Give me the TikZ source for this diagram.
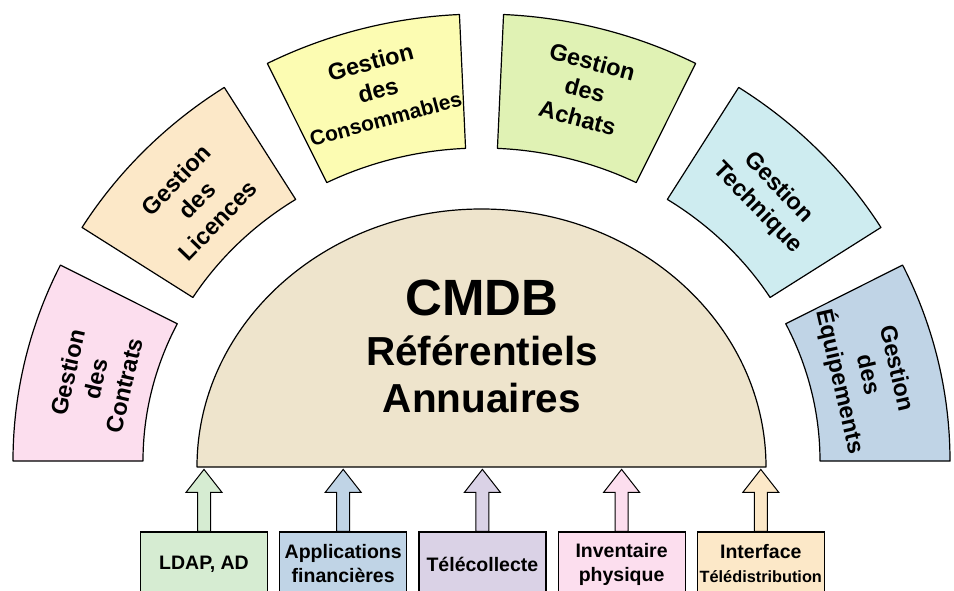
\documentclass[tikz,border=0pt]{standalone}
\usepackage{fontspec}
\setmainfont{Liberation Sans}
\usepackage{tikz}
\usepackage{xcolor}
\usetikzlibrary{positioning}

\definecolor{contratpink}{RGB}{252,222,238}
\definecolor{licencepeach}{RGB}{252,232,200}
\definecolor{consoyellow}{RGB}{252,252,178}
\definecolor{achatgreen}{RGB}{224,242,180}
\definecolor{techcyan}{RGB}{206,236,240}
\definecolor{equipblue}{RGB}{192,212,230}
\definecolor{cmdbbeige}{RGB}{238,228,204}
\definecolor{ldapgreen}{RGB}{214,236,210}
\definecolor{telelilac}{RGB}{218,210,230}

\tikzset{
    ringsector/.style={draw=black, line width=1.2pt, line join=round},
    sectortext/.style={font=\bfseries\fontsize{23.5}{29}\selectfont, align=center},
    hubtext/.style={anchor=base, font=\bfseries\fontsize{40.5}{46}\selectfont},
    sourcebox/.style={draw=black, line width=1.2pt, minimum width=127pt, minimum height=64pt,
        inner sep=0pt, align=center, font=\bfseries\fontsize{19.5}{24}\selectfont},
    feed/.style={draw=black, line width=1pt, line join=miter},
}

\begin{document}
\begin{tikzpicture}[x=1pt,y=1pt]
    \useasboundingbox (0,0) rectangle (954,590);
    \coordinate (ringc) at (481.5,129);

    %outer ring
    \draw[ringsector, fill=contratpink] ([shift={(ringc)}]180:468.5pt and 447pt) arc[start angle=180, end angle=154, x radius=468.5pt, y radius=447pt]
        -- ([shift={(ringc)}]154:338.5pt and 313pt) arc[start angle=154, end angle=180, x radius=338.5pt, y radius=313pt] -- cycle;
    \draw[ringsector, fill=licencepeach] ([shift={(ringc)}]148.5:468.5pt and 447pt) arc[start angle=148.5, end angle=123.3, x radius=468.5pt, y radius=447pt]
        -- ([shift={(ringc)}]123.3:338.5pt and 313pt) arc[start angle=123.3, end angle=148.5, x radius=338.5pt, y radius=313pt] -- cycle;
    \draw[ringsector, fill=consoyellow] ([shift={(ringc)}]117.2:468.5pt and 447pt) arc[start angle=117.2, end angle=92.7, x radius=468.5pt, y radius=447pt]
        -- ([shift={(ringc)}]92.7:338.5pt and 313pt) arc[start angle=92.7, end angle=117.2, x radius=338.5pt, y radius=313pt] -- cycle;
    \draw[ringsector, fill=achatgreen] ([shift={(ringc)}]87.3:468.5pt and 447pt) arc[start angle=87.3, end angle=62.8, x radius=468.5pt, y radius=447pt]
        -- ([shift={(ringc)}]62.8:338.5pt and 313pt) arc[start angle=62.8, end angle=87.3, x radius=338.5pt, y radius=313pt] -- cycle;
    \draw[ringsector, fill=techcyan] ([shift={(ringc)}]56.7:468.5pt and 447pt) arc[start angle=56.7, end angle=31.5, x radius=468.5pt, y radius=447pt]
        -- ([shift={(ringc)}]31.5:338.5pt and 313pt) arc[start angle=31.5, end angle=56.7, x radius=338.5pt, y radius=313pt] -- cycle;
    \draw[ringsector, fill=equipblue] ([shift={(ringc)}]26:468.5pt and 447pt) arc[start angle=26, end angle=0, x radius=468.5pt, y radius=447pt]
        -- ([shift={(ringc)}]0:338.5pt and 313pt) arc[start angle=0, end angle=26, x radius=338.5pt, y radius=313pt] -- cycle;

    \node[sectortext, rotate=77] (contrats) at (96,211) {Gestion\\des\\Contrats};
    \node[sectortext, rotate=46] (licences) at (197,390) {Gestion\\des\\Licences};
    \node[sectortext, rotate=15] (consommables) at (378,500) {Gestion\\des\\{\fontsize{21}{29}\selectfont Consommables}};
    \node[sectortext, rotate=-15] (achats) at (585,500) {Gestion\\des\\Achats};
    \node[sectortext, rotate=-46] (technique) at (768,392) {Gestion\\Technique};
    \node[sectortext, rotate=-77] (equipements) at (867,215) {Gestion\\des\\Équipements};

    %central half disc
    \draw[ringsector, fill=cmdbbeige] (197,123) arc[start angle=180, end angle=0, x radius=284.5pt, y radius=258pt] -- cycle;
    \node[anchor=base, font=\bfseries\fontsize{51}{60}\selectfont] (cmdb) at (482,274) {CMDB};
    \node[hubtext] (referentiels) at (482,224) {Référentiels};
    \node[hubtext] (annuaires) at (482,178) {Annuaires};

    %sources
    \node[sourcebox, fill=ldapgreen] (ldap) at (204,26) {LDAP, AD};
    \node[sourcebox, fill=equipblue, right=11pt of ldap] (finance) {Applications\\financières};
    \node[sourcebox, fill=telelilac, right=11pt of finance] (telecollecte) {Télécollecte};
    \node[sourcebox, fill=contratpink, right=11pt of telecollecte] (inventaire) {Inventaire\\physique};
    \node[sourcebox, fill=licencepeach, right=11pt of inventaire] (interface) {Interface\\{\fontsize{16.3}{20}\selectfont Télédistribution}};

    %feed arrows
    \draw[feed, fill=ldapgreen] ([xshift=-6.5pt]ldap.north) -- ++(0,39) -- ++(-11.5,0) -- ++(18,23) -- ++(18,-23) -- ++(-11.5,0) -- ++(0,-39) -- cycle;
    \draw[feed, fill=equipblue] ([xshift=-6.5pt]finance.north) -- ++(0,39) -- ++(-11.5,0) -- ++(18,23) -- ++(18,-23) -- ++(-11.5,0) -- ++(0,-39) -- cycle;
    \draw[feed, fill=telelilac] ([xshift=-6.5pt]telecollecte.north) -- ++(0,39) -- ++(-11.5,0) -- ++(18,23) -- ++(18,-23) -- ++(-11.5,0) -- ++(0,-39) -- cycle;
    \draw[feed, fill=contratpink] ([xshift=-6.5pt]inventaire.north) -- ++(0,39) -- ++(-11.5,0) -- ++(18,23) -- ++(18,-23) -- ++(-11.5,0) -- ++(0,-39) -- cycle;
    \draw[feed, fill=licencepeach] ([xshift=-6.5pt]interface.north) -- ++(0,39) -- ++(-11.5,0) -- ++(18,23) -- ++(18,-23) -- ++(-11.5,0) -- ++(0,-39) -- cycle;
\end{tikzpicture}
\end{document}
